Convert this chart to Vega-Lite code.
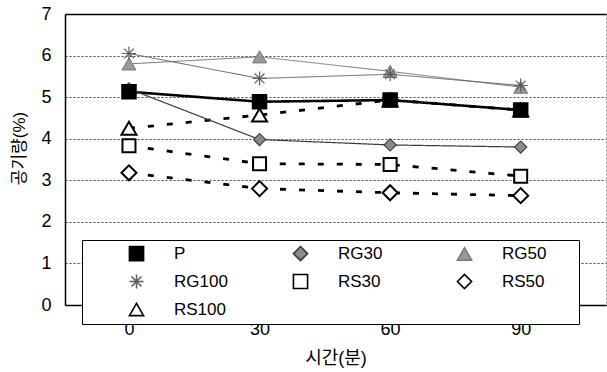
{
  "$schema": "https://vega.github.io/schema/vega-lite/v6.json",
  "width": 541,
  "height": 291,
  "autosize": "none",
  "padding": {"left": 65, "top": 14, "right": 1, "bottom": 67},
  "background": "white",
  "config": {
    "view": {"stroke": "#999", "strokeDash": [2, 2]},
    "font": "Liberation Sans, Noto Sans CJK KR",
    "legend": {
      "orient": "none",
      "legendX": 17,
      "legendY": 226,
      "zindex": 1,
      "columns": 3,
      "direction": "horizontal",
      "gridAlign": "all",
      "columnPadding": 23,
      "rowPadding": 7,
      "padding": 5,
      "fillColor": "white",
      "strokeColor": "black",
      "titleOrient": "right",
      "titlePadding": 28,
      "titleFontSize": 17,
      "labelFont": "Liberation Sans",
      "labelFontSize": 17,
      "labelColor": "black",
      "symbolSize": 200,
      "symbolStrokeWidth": 1.6,
      "symbolOffset": 41,
      "labelOffset": 29
    }
  },
  "data": {
    "values": [
      {"series": "RS100", "t": 0, "v": 4.25},
      {"series": "RS100", "t": 30, "v": 4.57},
      {"series": "RS100", "t": 60, "v": 4.93},
      {"series": "RS100", "t": 90, "v": 4.69},
      {"series": "P", "t": 0, "v": 5.13},
      {"series": "P", "t": 30, "v": 4.89},
      {"series": "P", "t": 60, "v": 4.93},
      {"series": "P", "t": 90, "v": 4.69},
      {"series": "RG30", "t": 0, "v": 5.2},
      {"series": "RG30", "t": 30, "v": 3.98},
      {"series": "RG30", "t": 60, "v": 3.85},
      {"series": "RG30", "t": 90, "v": 3.8},
      {"series": "RG50", "t": 0, "v": 5.8},
      {"series": "RG50", "t": 30, "v": 5.97},
      {"series": "RG50", "t": 60, "v": 5.62},
      {"series": "RG50", "t": 90, "v": 5.24},
      {"series": "RG100", "t": 0, "v": 6.05},
      {"series": "RG100", "t": 30, "v": 5.45},
      {"series": "RG100", "t": 60, "v": 5.55},
      {"series": "RG100", "t": 90, "v": 5.28},
      {"series": "RS30", "t": 0, "v": 3.83},
      {"series": "RS30", "t": 30, "v": 3.4},
      {"series": "RS30", "t": 60, "v": 3.38},
      {"series": "RS30", "t": 90, "v": 3.1},
      {"series": "RS50", "t": 0, "v": 3.18},
      {"series": "RS50", "t": 30, "v": 2.8},
      {"series": "RS50", "t": 60, "v": 2.7},
      {"series": "RS50", "t": 90, "v": 2.63}
    ]
  },
  "encoding": {
    "x": {
      "field": "t",
      "type": "quantitative",
      "scale": {"domain": [-14.7, 109.6], "nice": false, "zero": false},
      "axis": {
        "values": [0, 30, 60, 90],
        "grid": false,
        "ticks": false,
        "domainColor": "black",
        "domainWidth": 1.5,
        "labelPadding": 15,
        "labelFontSize": 18,
        "labelColor": "black",
        "labelFont": "Liberation Sans",
        "labelFlush": false,
        "title": "시간(분)",
        "titleFont": "Liberation Sans, Noto Sans CJK KR",
        "titleFontSize": 18,
        "titleFontWeight": "normal",
        "titleColor": "black",
        "titleY": 53,
        "titleBaseline": "middle"
      }
    },
    "y": {
      "field": "v",
      "type": "quantitative",
      "scale": {"domain": [0, 7], "nice": false},
      "axis": {
        "values": [0, 1, 2, 3, 4, 5, 6, 7],
        "grid": true,
        "gridColor": {"condition": {"test": "datum.value === 7", "value": "#000"}, "value": "#444"},
        "gridDash": {"condition": {"test": "datum.value === 7", "value": []}, "value": [2, 2]},
        "gridWidth": {"condition": {"test": "datum.value === 7", "value": 1.3}, "value": 1},
        "ticks": false,
        "domainColor": "black",
        "domainWidth": 1.5,
        "labelPadding": 14,
        "labelFontSize": 18,
        "labelColor": "black",
        "labelFont": "Liberation Sans",
        "title": "공기량(%)",
        "titleFont": "Liberation Sans, Noto Sans CJK KR",
        "titleFontSize": 17,
        "titleFontWeight": "normal",
        "titleColor": "black",
        "titleX": -46,
        "titleY": 134,
        "titleBaseline": "middle"
      }
    }
  },
  "layer": [
    {
      "mark": {"type": "line", "strokeCap": "butt"},
      "encoding": {
        "stroke": {
          "field": "series",
          "type": "nominal",
          "scale": {
            "domain": ["P", "RG30", "RG50", "RG100", "RS30", "RS50", "RS100"],
            "range": ["#000000", "#3a3a3a", "#777777", "#5e5e5e", "#000000", "#000000", "#000000"]
          },
          "legend": {"title": "\u00a0"}
        },
        "strokeWidth": {
          "field": "series",
          "type": "nominal",
          "scale": {
            "type": "ordinal",
            "domain": ["RS100", "RS50", "RS30", "RG100", "RG50", "RG30", "P"],
            "range": [2.8, 2.8, 2.8, 1, 1, 1.2, 2.6]
          },
          "legend": null
        },
        "strokeDash": {
          "field": "series",
          "type": "nominal",
          "scale": {
            "type": "ordinal",
            "domain": ["RS100", "RS50", "RS30", "RG100", "RG50", "RG30", "P"],
            "range": [[6, 13], [6, 13], [6, 13], [1, 0], [1, 0], [1, 0], [1, 0]]
          },
          "legend": null
        }
      }
    },
    {
      "mark": {"type": "point", "opacity": 1, "fillOpacity": 1},
      "encoding": {
        "order": {"field": "series", "sort": "descending"},
        "shape": {
          "field": "series",
          "type": "nominal",
          "scale": {
            "domain": ["P", "RG30", "RG50", "RG100", "RS30", "RS50", "RS100"],
            "range": ["square", "diamond", "triangle-up", "M-1,0L1,0M0,-1L0,1M-0.7,-0.7L0.7,0.7M-0.7,0.7L0.7,-0.7", "square", "diamond", "triangle-up"]
          },
          "legend": {"title": "\u00a0"}
        },
        "fill": {
          "field": "series",
          "type": "nominal",
          "scale": {
            "domain": ["P", "RG30", "RG50", "RG100", "RS30", "RS50", "RS100"],
            "range": ["#000000", "#8a8a8a", "#999999", "transparent", "#ffffff", "#ffffff", "#ffffff"]
          },
          "legend": {"title": "\u00a0"}
        },
        "stroke": {
          "field": "series",
          "type": "nominal",
          "legend": {"title": "\u00a0"}
        },
        "strokeWidth": {
          "field": "series",
          "type": "nominal",
          "scale": {
            "type": "ordinal",
            "domain": ["RS100", "RS50", "RS30", "RG100", "RG50", "RG30", "P"],
            "range": [2, 2, 2, 1.2, 1, 1.1, 1.5]
          },
          "legend": null
        },
        "size": {
          "field": "series",
          "type": "nominal",
          "scale": {
            "type": "ordinal",
            "domain": ["RS100", "RS50", "RS30", "RG100", "RG50", "RG30", "P"],
            "range": [225, 225, 169, 196, 196, 150, 196]
          },
          "legend": null
        }
      }
    }
  ],
  "resolve": {"scale": {"strokeWidth": "independent"}}
}
